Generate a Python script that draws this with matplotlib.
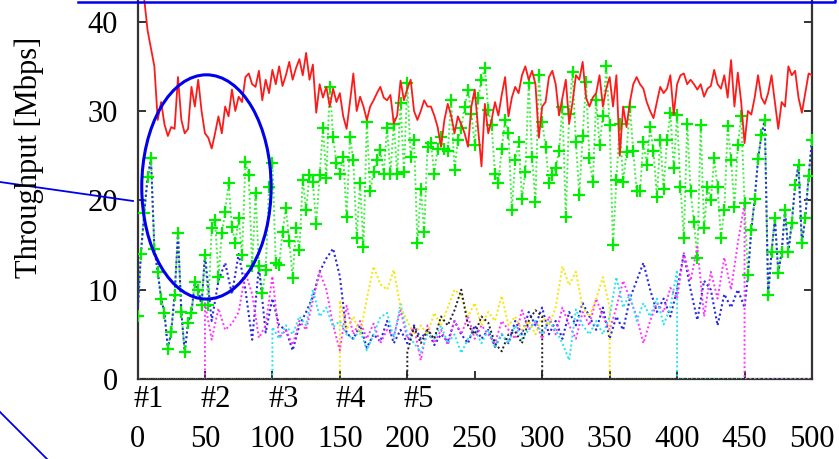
import matplotlib
matplotlib.use("Agg")
import matplotlib.pyplot as plt
from matplotlib.patches import Ellipse
import numpy as np

# time axis for the two dense series (seconds)
t_fine = np.arange(0, 500.1, 2.5)

red_vals = [
    46, 44, 42.5, 39, 37, 35, 29, 31, 28.5, 27.2,
    28.2, 28, 33.8, 29, 27.5, 28, 32.7, 30.5, 33.5, 30,
    27.5, 27, 25.8, 27.5, 29.4, 27.5, 30.5, 29.4, 32.4, 30,
    31.6, 31, 33.8, 34.2, 33, 32.7, 34.5, 31.2, 33.5, 32,
    34.6, 33, 35, 32.8, 34, 35.5, 33.5, 34.8, 35.8, 34,
    36.5, 33.5, 35.2, 29.8, 33, 31.5, 32.7, 30.5, 32.5, 31,
    32, 29.4, 28, 31, 34.2, 30, 31.6, 30.5, 29, 30.5,
    31.2, 32, 32.7, 31.5, 31.2, 31.8, 28.6, 29.5, 33.4, 31.2,
    32.5, 33.5, 30, 29, 30, 31.2, 30.5, 30.5, 29.5, 28.2,
    26, 29, 30.8, 29.5, 27.5, 29.4, 28.5, 27.5, 26, 30.5,
    32.4, 28, 23.8, 30.8, 27.5, 29, 31, 29.5, 31.8, 33.8,
    29.4, 31.5, 32.7, 32, 34, 35, 33.5, 34.5, 33, 27,
    30.5, 31, 33.8, 34.5, 33, 29.5, 31.5, 33.5, 28.6, 31,
    34, 33.5, 35.5, 31.5, 30.5, 31.5, 32, 34, 30.5, 32.5,
    33.8, 30.5, 34, 25, 30.5, 28.2, 31, 33, 33.8, 33,
    32.5, 31, 30, 29.2, 31, 32.7, 32, 32.5, 34, 29.6,
    33, 34, 34.2, 33, 33.5, 33, 32.4, 33, 31.6, 32.5,
    32.8, 34.6, 33, 32.5, 34, 31.5, 35.7, 30.5, 34.3, 31,
    26.4, 30, 29.6, 31.5, 34, 31.5, 30.8, 32, 34, 31,
    28, 31, 30.5, 35, 34, 34.5, 31.5, 29.8, 32, 34.2,
    34,
]

green_vals = [
    7, 14, 18.6, 22.6, 24.7, 14.6, 12, 9, 7.4, 3.4,
    5.3, 9.4, 16.3, 7.5, 3, 6.3, 7.4, 10.9, 10, 8.3,
    13.9, 8.3, 16.9, 17.8, 11.4, 16.3, 18.7, 21.9, 17, 15.2,
    18, 13.9, 24.3, 22.8, 12.6, 20.8, 12.6, 9.6, 12.2, 21.5,
    24.2, 13, 12.8, 16.5, 19.1, 15.5, 11.3, 16.9, 14.4, 22.3,
    18.9, 22.8, 22, 17.4, 22.8, 28.1, 22.5, 32.7, 27.1, 24.2,
    23, 24.9, 18.1, 27.1, 24.5, 15.8, 21.9, 14.8, 28.8, 21,
    23.2, 24.5, 25.6, 23, 28.1, 23, 28.6, 23, 30.9, 23.2,
    33.1, 24.9, 26.8, 15.2, 21.3, 16.5, 26, 26.4, 23, 25.8,
    27.1, 25.7, 25.5, 31.2, 23.4, 26.8, 28.1, 30.5, 32.4, 29.7,
    26.2, 31.4, 33.5, 34.8, 30.1, 28.4, 23, 21.9, 25.8, 29,
    27.5, 18.9, 24.5, 26.5, 20.2, 23.2, 33.1, 24.8, 19.8, 34,
    28.8, 26, 21.9, 22.8, 23.6, 25.5, 30.5, 18.1, 29.7, 34.4,
    26.5, 20.6, 27.2, 33.3, 24.7, 22, 31.2, 26.2, 29.4, 35,
    28.4, 15, 22.3, 28.6, 22, 25.4, 30.5, 25.5, 21.1, 21,
    26.5, 24, 28.2, 25.5, 20.4, 26.7, 21.3, 26.7, 29.8, 23.6,
    29.5, 21.5, 15.8, 28.6, 21, 17.6, 13.5, 28.4, 16.9, 21.5,
    20, 24.7, 21.5, 15.8, 18.9, 28.3, 24.5, 19.3, 26.2, 29.4,
    19.7, 11.6, 16.7, 20.1, 24.6, 27.3, 29, 9.4, 14.2, 18,
    11.9, 14.2, 18.9, 14.2, 17.5, 21.7, 24, 15.2, 18, 22.7,
    26.8,
]

# blue flow between 50 s and 450 s (outside that it runs on the green points)
blue_mid = [
    13.9, 6.5, 11, 13, 9.5, 14, 10, 4.4, 12.6, 5.2,
    9, 6, 5.5, 3.2, 6, 7.5, 9.2, 12, 13.5, 14.6,
    11.5, 5.1, 4.5, 6, 3.5, 5, 4.2, 6.5, 4, 5.5,
    4, 6, 4.5, 5.5, 3.8, 5, 4.2, 6.5, 5, 4,
    6, 4.5, 5.5, 3.6, 5, 4, 6.5, 5, 7.5, 6,
    8, 5, 6.5, 4.5, 7.5, 6, 8.5, 7, 5.5, 8,
    4.5, 7, 5.5, 9, 11, 13, 10, 7.5, 9, 7,
    10, 14, 10, 6.6, 11, 10, 6, 9.5, 8, 10,
    8,
]

# flows #2..#5, sampled every 5 s while active
magenta_vals = [
    8.5, 4.4, 7.9, 5.5, 6.2, 7.5, 11.9, 9.5, 4.6, 6,
    11.5, 4.6, 5.5, 3.8, 6.5, 5.5, 8.8, 12, 10, 6,
    3.2, 8.2, 5, 6.5, 4.5, 6.2, 4, 5.5, 4.8, 7.7,
    4.5, 5.8, 2.1, 6, 4, 5.5, 3.8, 6.5, 5, 7,
    4.5, 6, 5, 4, 6.5, 5.5, 4.5, 7.7, 5.5, 6.5,
    4.5, 7, 5, 8, 6, 4.5, 7.5, 6, 9, 7,
    5.5, 8, 11, 9, 7, 4, 6.5, 8.5, 7.5, 10.2,
    9, 14.1, 11, 14.8, 7, 12, 9, 13.6, 10, 15.2,
    19.7,
]
cyan_vals = [
    5.8, 4.5, 6, 5, 7, 6, 10, 7, 8, 5.8,
    6.5, 5, 4.5, 5.5, 3.2, 5, 6.9, 7.4, 4.5, 8.4,
    5, 4, 3, 5, 4.5, 6, 4, 5, 2.9, 4.5,
    5.5, 4, 5.5, 3.5, 5, 4, 6, 4.5, 5.5, 6.5,
    5, 6.5, 5.5, 4, 2.1, 7.8, 6, 5, 6.5, 5,
    7, 11.4, 8, 9.5, 6.5, 8.5, 7, 9, 6.1, 8,
    12.2,
]
yellow_vals = [
    8.8, 5.5, 7, 5, 9, 12.6, 10.6, 10, 12.2, 8,
    6.5, 5, 6, 5, 7.4, 6, 8, 10, 9.3, 7,
    8.5, 6, 7.5, 6.5, 9.3, 6, 7, 5.5, 6.5, 5,
    7, 6, 8, 12.6, 10.5, 12, 8, 7, 9, 11.4,
    8,
]
black_vals = [
    3, 5.8, 4, 5.5, 4.5, 7, 6, 7.7, 10, 6,
    5, 7, 6.3, 4, 3.1, 5, 5.3, 4, 6.5, 7.7,
    7,
]

flow_marks = ["#1", "#2", "#3", "#4", "#5"]
flow_starts = [0, 50, 100, 150, 200]


def with_idle(start, end, vals):
    # flow is at 0 Mbps before it starts and after it stops
    x = [0, start] + list(np.arange(start, end + 0.1, 5)) + [end, 500]
    y = [0, 0] + list(vals) + [0, 0]
    return x, y


W, H = 839, 459
fig = plt.figure(figsize=(W / 100, H / 100), dpi=100)
plt.rcParams["font.family"] = ["Liberation Serif", "DejaVu Serif"]
FS = 22

# axes frame: x 137..812 px, y=0 at 379 px, top is cut off by the figure
ax = fig.add_axes([137.5 / W, 80 / H, 674.5 / W, 402 / H])
ax.set_xlim(0, 500)
ax.set_ylim(0, 45)

dot = (0, (1, 1.3))
ax.plot(t_fine, red_vals, color="#ff1a1a", lw=1.3, zorder=5)
ax.plot(t_fine, green_vals, color="#44ee44", lw=1.4, ls=dot, zorder=2)

blue_x = np.concatenate([t_fine[:20], np.arange(50, 450.1, 5), t_fine[181:]])
blue_y = np.concatenate([green_vals[:20], blue_mid, green_vals[181:]])
ax.plot(blue_x, blue_y, color="#2a2ae0", lw=1.5, ls=dot, zorder=3)

for start, end, vals, col in [
    (50, 450, magenta_vals, "#ff33ff"),
    (100, 400, cyan_vals, "#22e5f0"),
    (150, 350, yellow_vals, "#f5e600"),
    (200, 300, black_vals, "#222222"),
]:
    x, y = with_idle(start, end, vals)
    ax.plot(x, y, color=col, lw=1.4, ls=dot, zorder=3)

ax.plot(t_fine, green_vals, ls="none", marker="+", ms=9, mew=1.6,
        color="#00ee00", zorder=4)

# frame and ticks
for side in ["left", "right", "bottom"]:
    ax.spines[side].set_color("#333333")
    ax.spines[side].set_linewidth(1.6)
ax.spines["top"].set_visible(False)
ax.set_yticks([0, 10, 20, 30, 40])
ax.set_xticks(np.arange(0, 501, 50))
ax.tick_params(axis="both", direction="in", length=6, width=1.3,
               color="#222222", labelsize=FS)
ax.tick_params(axis="y", right=True, pad=14)
ax.tick_params(axis="x", pad=33)

for mark, x0 in zip(flow_marks, flow_starts):
    ax.annotate(mark, xy=(x0, 0), xytext=(-3, -15), textcoords="offset points",
                ha="left", va="center", fontsize=FS)

fig.text(29 / W, 1 - 157 / H, "Throughput [Mbps]", rotation=90,
         ha="center", va="center", fontsize=FS)

# blue highlight drawn over the figure
blue = "#0000ee"
ax.add_patch(Ellipse((51.1, 21.5), 95.9, 25.1, fill=False, edgecolor=blue,
                     lw=2.2, zorder=6, clip_on=False))
fig.add_artist(plt.Line2D([0, 133 / W], [1 - 182 / H, 1 - 201 / H],
                          color=blue, lw=1.3))
fig.add_artist(plt.Line2D([0, 47 / W], [1 - 412 / H, 0], color=blue, lw=1.3))
fig.add_artist(plt.Line2D([78 / W, 835 / W, 835 / W],
                          [1 - 1.5 / H, 1 - 1.5 / H, 1], color=blue, lw=1.8))

plt.savefig("out.png", dpi=100)
